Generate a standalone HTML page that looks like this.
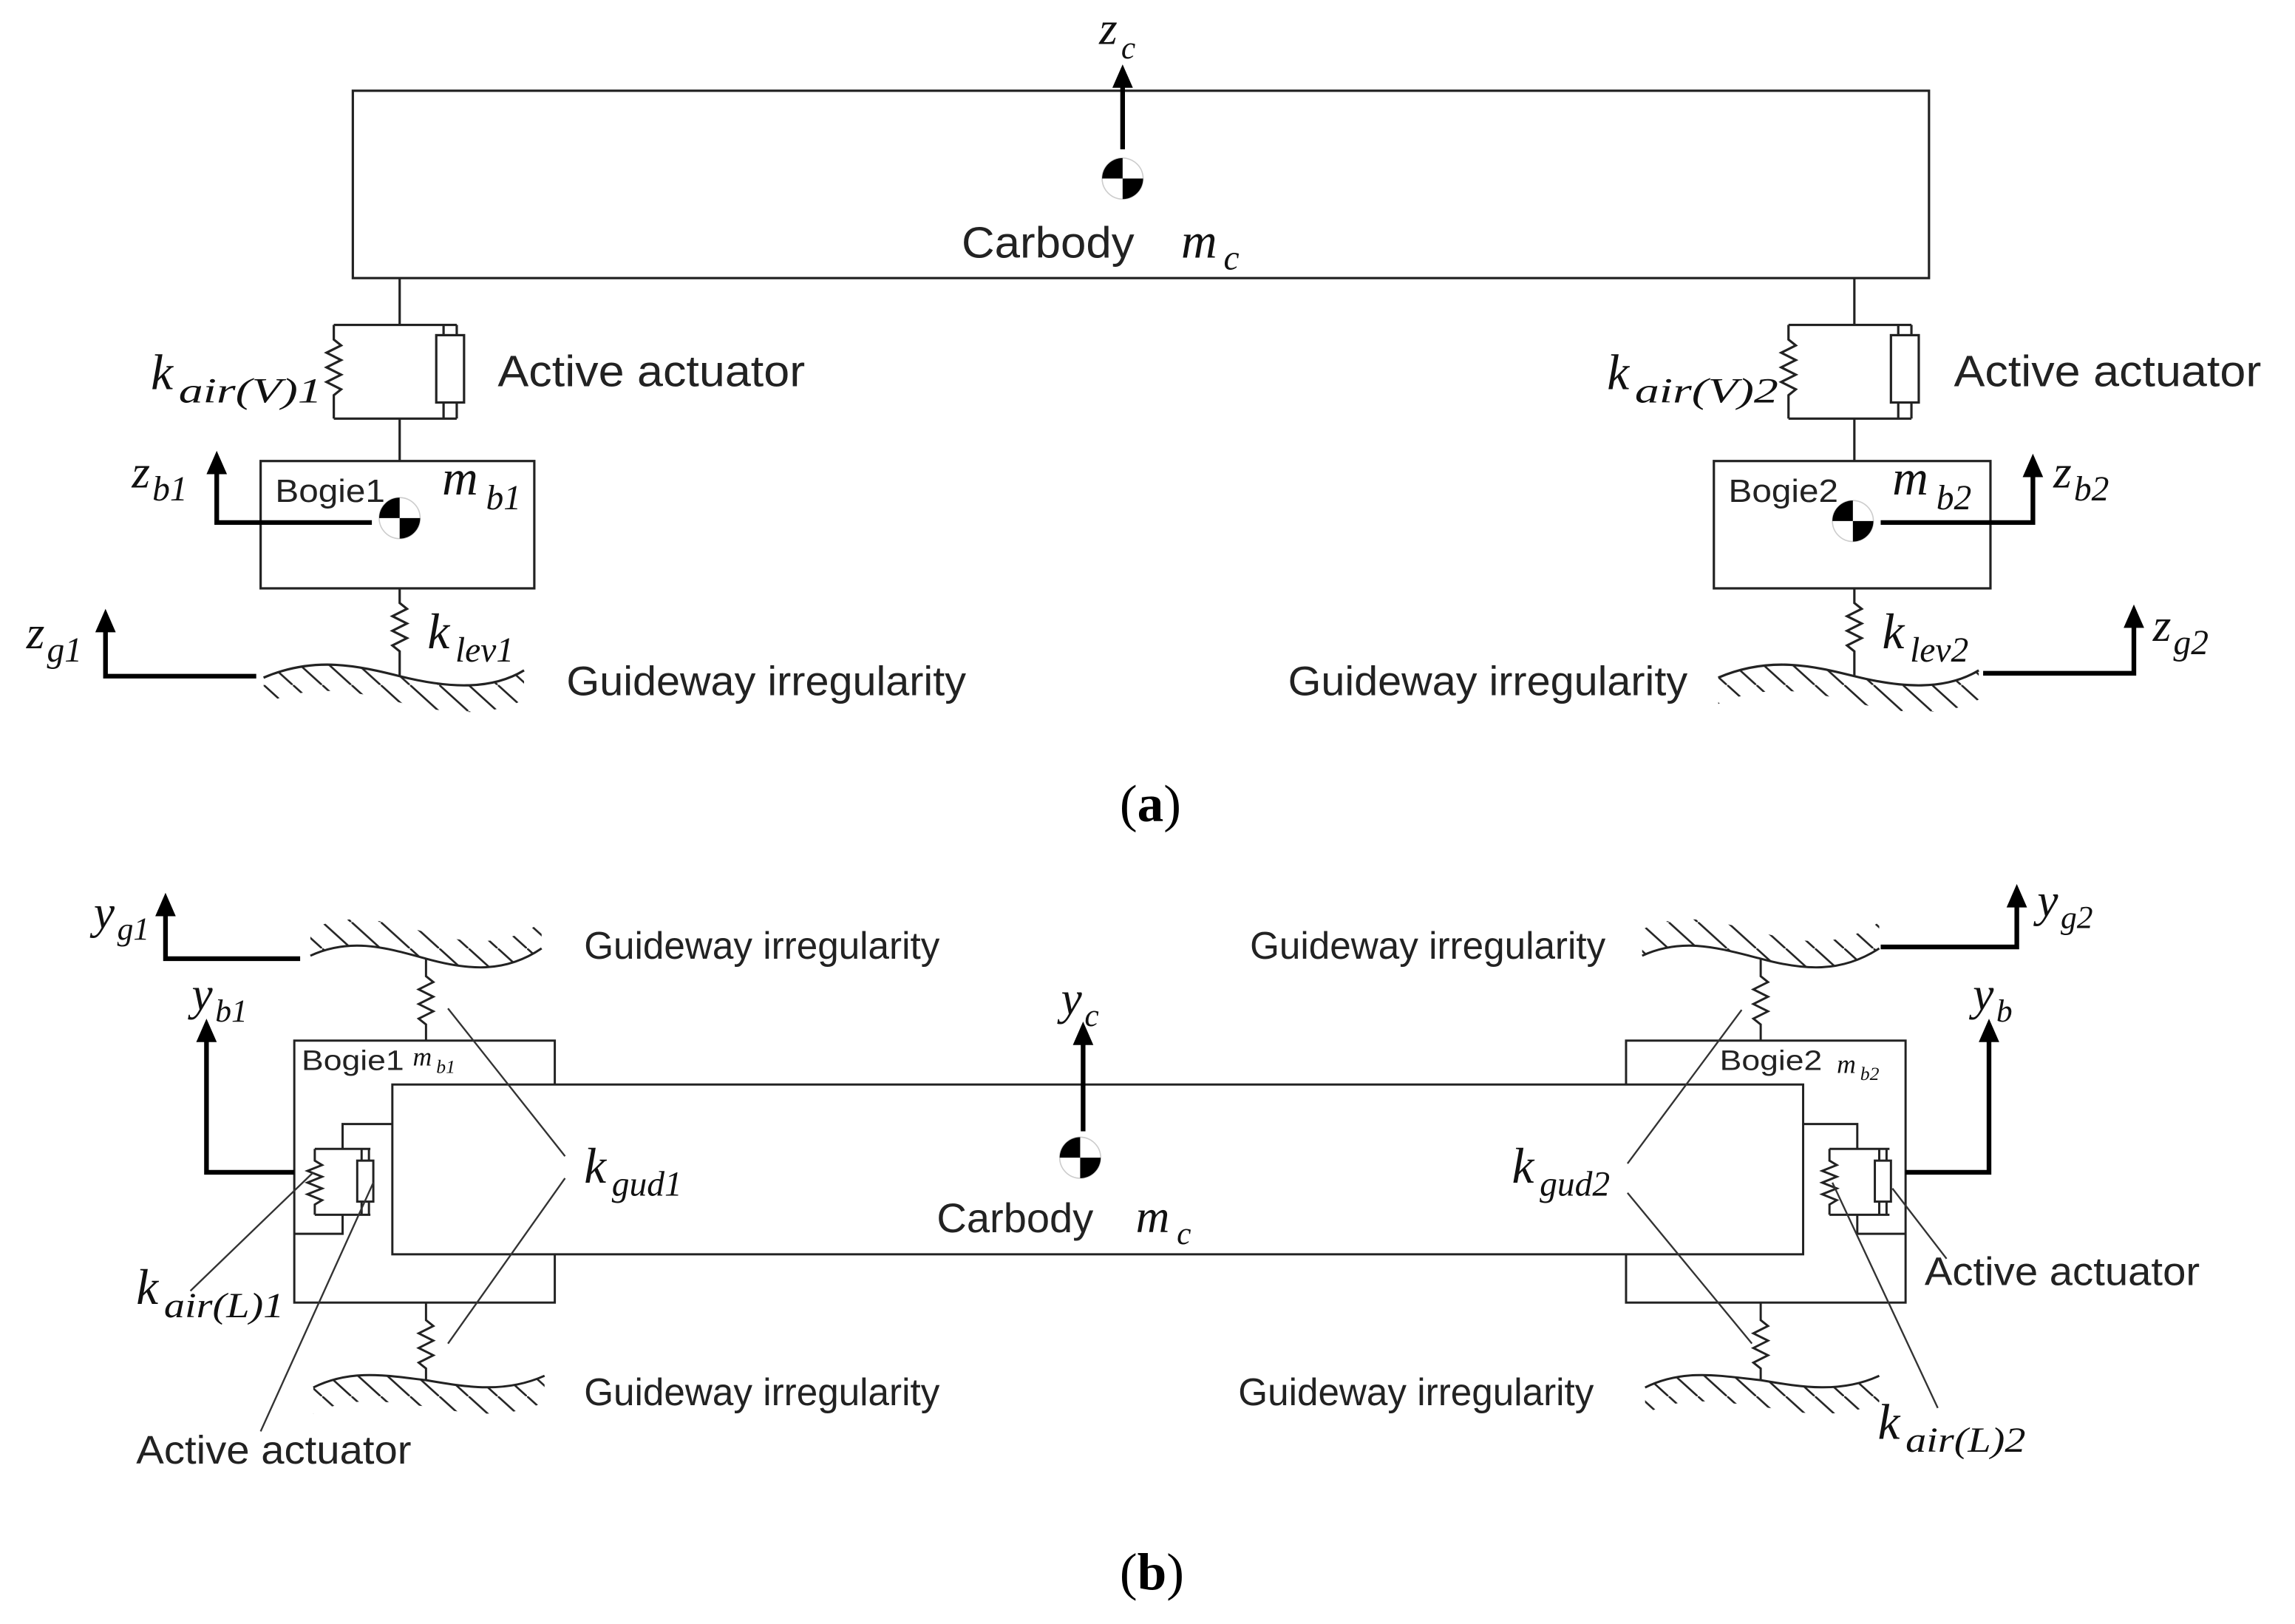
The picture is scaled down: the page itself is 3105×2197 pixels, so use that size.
<!DOCTYPE html>
<html><head><meta charset="utf-8"><style>
html,body{margin:0;padding:0;background:#fff;}
svg{display:block;}
.s{font-family:"Liberation Sans",sans-serif;fill:#222;}
.m{font-family:"Liberation Serif",serif;font-style:italic;fill:#111;}
</style></head><body>
<svg width="3105" height="2197" viewBox="0 0 1568 1109.6" xmlns="http://www.w3.org/2000/svg">
<defs>
<pattern id="h" patternUnits="userSpaceOnUse" width="20" height="18">
<path d="M-1,-1 L21,19" stroke="#222" stroke-width="1.3"/>
</pattern>
<g id="cg">
<circle r="14" fill="#fff" stroke="#ccc" stroke-width="0.8"/>
<path d="M0,0 L-14,0 A14,14 0 0 1 0,-14 Z" fill="#000"/>
<path d="M0,0 L14,0 A14,14 0 0 1 0,14 Z" fill="#000"/>
</g>
</defs>
<rect width="1568" height="1110" fill="#fff"/>
<g fill="none" stroke="#222" stroke-width="1.6">
<!-- (a) carbody -->
<rect x="241" y="62" width="1077" height="128"/>
<!-- left suspension -->
<path d="M273,190 V222 M228,222 H312 M228,286 H312 M273,286 V315"/>
<path d="M228,222 V232 l5,4 l-10,5 l10,5 l-10,5 l10,5 l-10,5 l10,5 l-5,4 V286"/>
<rect x="298" y="229" width="19" height="46"/>
<path d="M303,222 v7 M312,222 v7 M303,275 v11 M312,275 v11"/>
<rect x="178" y="315" width="187" height="87"/>
<path d="M273,402 V412 l5,4 l-10,5 l10,5 l-10,5 l10,5 l-10,5 l5,4 V462"/>
<path d="M180,463 C215,448 245,455 273,462 C305,470 335,472 358,458"/>
<!-- right suspension -->
<path d="M1267,190 V222 M1222,222 H1306 M1222,286 H1306 M1267,286 V315"/>
<path d="M1222,222 V232 l5,4 l-10,5 l10,5 l-10,5 l10,5 l-10,5 l10,5 l-5,4 V286"/>
<rect x="1292" y="229" width="19" height="46"/>
<path d="M1297,222 v7 M1306,222 v7 M1297,275 v11 M1306,275 v11"/>
<rect x="1171" y="315" width="189" height="87"/>
<path d="M1267,402 V412 l5,4 l-10,5 l10,5 l-10,5 l10,5 l-10,5 l5,4 V462"/>
<path d="M1174,463 C1209,448 1239,455 1267,462 C1299,470 1329,472 1352,458"/>
</g>
<!-- hatching (a) -->
<path d="M180,463 C215,448 245,455 273,462 C305,470 335,472 358,458 L358,478 C335,490 305,488 273,480 C245,473 215,466 180,481 Z" fill="url(#h)"/>
<path d="M1174,463 C1209,448 1239,455 1267,462 C1299,470 1329,472 1352,458 L1352,478 C1329,490 1299,488 1267,480 C1239,473 1209,466 1174,481 Z" fill="url(#h)"/>
<!-- thick arrows (a) -->
<g fill="none" stroke="#000" stroke-width="3.2">
<path d="M767,102 V58"/>
<path d="M254,357 H148 V322"/>
<path d="M1285,357 H1389 V324"/>
<path d="M175,462 H72 V430"/>
<path d="M1355,460 H1458 V427"/>
</g>
<g fill="#000">
<path d="M760,60 L767,44 L774,60 Z"/>
<path d="M141,324 L148,308 L155,324 Z"/>
<path d="M1382,326 L1389,310 L1396,326 Z"/>
<path d="M65,432 L72,416 L79,432 Z"/>
<path d="M1451,429 L1458,413 L1465,429 Z"/>
</g>
<use href="#cg" x="767" y="122"/>
<use href="#cg" x="273" y="354"/>
<use href="#cg" x="1266" y="356"/>
<!-- (a) text -->
<text class="s" x="657" y="176" font-size="30" textLength="118" lengthAdjust="spacingAndGlyphs">Carbody</text>
<text class="m" x="807" y="176" font-size="34">m</text><text class="m" x="836" y="184" font-size="24">c</text>
<text class="m" x="751" y="30" font-size="32">z</text><text class="m" x="766" y="40" font-size="22">c</text>
<text class="s" x="340" y="264" font-size="30" textLength="210" lengthAdjust="spacingAndGlyphs">Active actuator</text>
<text class="s" x="1335" y="264" font-size="30" textLength="210" lengthAdjust="spacingAndGlyphs">Active actuator</text>
<text class="m" x="103" y="266" font-size="34">k</text><text class="m" x="122" y="275" font-size="24" textLength="98" lengthAdjust="spacingAndGlyphs">air(V)1</text>
<text class="m" x="1098" y="266" font-size="34">k</text><text class="m" x="1117" y="275" font-size="24" textLength="98" lengthAdjust="spacingAndGlyphs">air(V)2</text>
<text class="s" x="188" y="343" font-size="22" textLength="75" lengthAdjust="spacingAndGlyphs">Bogie1</text>
<text class="s" x="1181" y="343" font-size="22" textLength="75" lengthAdjust="spacingAndGlyphs">Bogie2</text>
<text class="m" x="302" y="338" font-size="34">m</text><text class="m" x="332" y="348" font-size="24">b1</text>
<text class="m" x="1293" y="338" font-size="34">m</text><text class="m" x="1323" y="348" font-size="24">b2</text>
<text class="m" x="90" y="333" font-size="32">z</text><text class="m" x="104" y="342" font-size="24">b1</text>
<text class="m" x="1403" y="333" font-size="32">z</text><text class="m" x="1417" y="342" font-size="24">b2</text>
<text class="m" x="292" y="443" font-size="34">k</text><text class="m" x="311" y="452" font-size="24">lev1</text>
<text class="m" x="1286" y="443" font-size="34">k</text><text class="m" x="1305" y="452" font-size="24">lev2</text>
<text class="m" x="18" y="443" font-size="32">z</text><text class="m" x="32" y="452" font-size="24">g1</text>
<text class="m" x="1471" y="438" font-size="32">z</text><text class="m" x="1485" y="447" font-size="24">g2</text>
<text class="s" x="387" y="475" font-size="28" textLength="273" lengthAdjust="spacingAndGlyphs">Guideway irregularity</text>
<text class="s" x="880" y="475" font-size="28" textLength="273" lengthAdjust="spacingAndGlyphs">Guideway irregularity</text>
<text x="765" y="561" font-family="Liberation Serif,serif" font-size="36" fill="#000">(<tspan font-weight="bold">a</tspan>)</text>

<!-- (b) -->
<g fill="none" stroke="#222" stroke-width="1.5">
<rect x="201" y="711" width="178" height="179" fill="#fff"/>
<rect x="1111" y="711" width="191" height="179" fill="#fff"/>
<rect x="268" y="741" width="964" height="116" fill="#fff"/>
<!-- left bracket -->
<path d="M268,768 H234 V785 M234,830 V843 H201"/>
<path d="M234,785 H215 M234,830 H215 M234,785 H253 M234,830 H253"/>
<path d="M215,785 V793 l5,3 l-10,4 l10,4 l-10,4 l10,4 l-10,4 l10,4 l-5,3 V830"/>
<rect x="244" y="793" width="11" height="28"/>
<path d="M247,785 v8 M252,785 v8 M247,821 v9 M252,821 v9"/>
<!-- right bracket -->
<path d="M1232,768 H1269 V785 M1269,830 V843 H1302"/>
<path d="M1250,785 H1291 M1250,830 H1291"/>
<path d="M1250,785 V793 l5,3 l-10,4 l10,4 l-10,4 l10,4 l-10,4 l10,4 l-5,3 V830"/>
<rect x="1281" y="793" width="11" height="28"/>
<path d="M1284,785 v8 M1289,785 v8 M1284,821 v9 M1289,821 v9"/>
<!-- springs -->
<path d="M291,655 V667 l5,4 l-10,5 l10,5 l-10,5 l10,5 l-10,5 l5,4 V711"/>
<path d="M291,890 V902 l5,4 l-10,5 l10,5 l-10,5 l10,5 l-10,5 l5,4 V943"/>
<path d="M1203,655 V667 l5,4 l-10,5 l10,5 l-10,5 l10,5 l-10,5 l5,4 V711"/>
<path d="M1203,890 V902 l5,4 l-10,5 l10,5 l-10,5 l10,5 l-10,5 l5,4 V943"/>
<!-- grounds -->
<path d="M212,653 C240,640 265,648 291,655 C320,663 345,665 370,648"/>
<path d="M214,948 C240,935 265,940 291,943 C320,948 345,952 372,940"/>
<path d="M1122,653 C1150,640 1175,648 1203,655 C1232,663 1258,665 1284,648"/>
<path d="M1124,948 C1150,935 1175,940 1203,943 C1232,948 1258,952 1284,940"/>
</g>
<g fill="url(#h)">
<path d="M212,653 C240,640 265,648 291,655 C320,663 345,665 370,648 L370,630 C345,647 320,645 291,637 C265,630 240,622 212,635 Z"/>
<path d="M1122,653 C1150,640 1175,648 1203,655 C1232,663 1258,665 1284,648 L1284,630 C1258,647 1232,645 1203,637 C1175,630 1150,622 1122,635 Z"/>
<path d="M214,948 C240,935 265,940 291,943 C320,948 345,952 372,940 L372,958 C345,970 320,966 291,961 C265,958 240,953 214,966 Z"/>
<path d="M1124,948 C1150,935 1175,940 1203,943 C1232,948 1258,952 1284,940 L1284,958 C1258,970 1232,966 1203,961 C1175,958 1150,953 1124,966 Z"/>
</g>
<!-- leader lines -->
<g stroke="#333" stroke-width="1.2" fill="none">
<path d="M386,790 L306,689 M386,805 L306,918"/>
<path d="M130,882 L214,801 M178,978 L255,808"/>
<path d="M1112,795 L1190,690 M1112,815 L1197,918"/>
<path d="M1324,962 L1252,808 M1330,860 L1293,812"/>
</g>
<!-- thick arrows (b) -->
<g fill="none" stroke="#000" stroke-width="3.2">
<path d="M205,655 H113 V624"/>
<path d="M201,801 H141 V710"/>
<path d="M740,773 V712"/>
<path d="M1302,801 H1359 V710"/>
<path d="M1285,647 H1378 V618"/>
</g>
<g fill="#000">
<path d="M106,626 L113,610 L120,626 Z"/>
<path d="M134,712 L141,696 L148,712 Z"/>
<path d="M733,714 L740,698 L747,714 Z"/>
<path d="M1352,712 L1359,696 L1366,712 Z"/>
<path d="M1371,620 L1378,604 L1385,620 Z"/>
</g>
<use href="#cg" x="738" y="791"/>
<text class="s" x="399" y="655" font-size="26" textLength="243" lengthAdjust="spacingAndGlyphs">Guideway irregularity</text>
<text class="s" x="854" y="655" font-size="26" textLength="243" lengthAdjust="spacingAndGlyphs">Guideway irregularity</text>
<text class="s" x="399" y="960" font-size="26" textLength="243" lengthAdjust="spacingAndGlyphs">Guideway irregularity</text>
<text class="s" x="846" y="960" font-size="26" textLength="243" lengthAdjust="spacingAndGlyphs">Guideway irregularity</text>
<text class="s" x="206" y="731" font-size="19" textLength="70" lengthAdjust="spacingAndGlyphs">Bogie1</text>
<text class="m" x="282" y="728" font-size="18">m</text><text class="m" x="298" y="733" font-size="13">b1</text>
<text class="s" x="1175" y="731" font-size="19" textLength="70" lengthAdjust="spacingAndGlyphs">Bogie2</text>
<text class="m" x="1255" y="733" font-size="18">m</text><text class="m" x="1271" y="738" font-size="13">b2</text>
<text class="s" x="640" y="842" font-size="28" textLength="107" lengthAdjust="spacingAndGlyphs">Carbody</text>
<text class="m" x="776" y="842" font-size="32">m</text><text class="m" x="804" y="850" font-size="22">c</text>
<text class="m" x="399" y="808" font-size="34">k</text><text class="m" x="418" y="817" font-size="24">gud1</text>
<text class="m" x="1033" y="808" font-size="34">k</text><text class="m" x="1052" y="817" font-size="24">gud2</text>
<text class="m" x="93" y="891" font-size="34">k</text><text class="m" x="112" y="900" font-size="24" textLength="82" lengthAdjust="spacingAndGlyphs">air(L)1</text>
<text class="m" x="1283" y="983" font-size="34">k</text><text class="m" x="1302" y="992" font-size="24" textLength="82" lengthAdjust="spacingAndGlyphs">air(L)2</text>
<text class="s" x="93" y="1000" font-size="27" textLength="188" lengthAdjust="spacingAndGlyphs">Active actuator</text>
<text class="s" x="1315" y="878" font-size="27" textLength="188" lengthAdjust="spacingAndGlyphs">Active actuator</text>
<text class="m" x="64" y="634" font-size="32">y</text><text class="m" x="80" y="642" font-size="22">g1</text>
<text class="m" x="131" y="690" font-size="32">y</text><text class="m" x="147" y="698" font-size="22">b1</text>
<text class="m" x="725" y="693" font-size="32">y</text><text class="m" x="741" y="701" font-size="22">c</text>
<text class="m" x="1348" y="690" font-size="32">y</text><text class="m" x="1364" y="698" font-size="22">b</text>
<text class="m" x="1392" y="626" font-size="32">y</text><text class="m" x="1408" y="634" font-size="22">g2</text>
<text x="765" y="1086" font-family="Liberation Serif,serif" font-size="36" fill="#000">(<tspan font-weight="bold">b</tspan>)</text>
</svg>
</body></html>
